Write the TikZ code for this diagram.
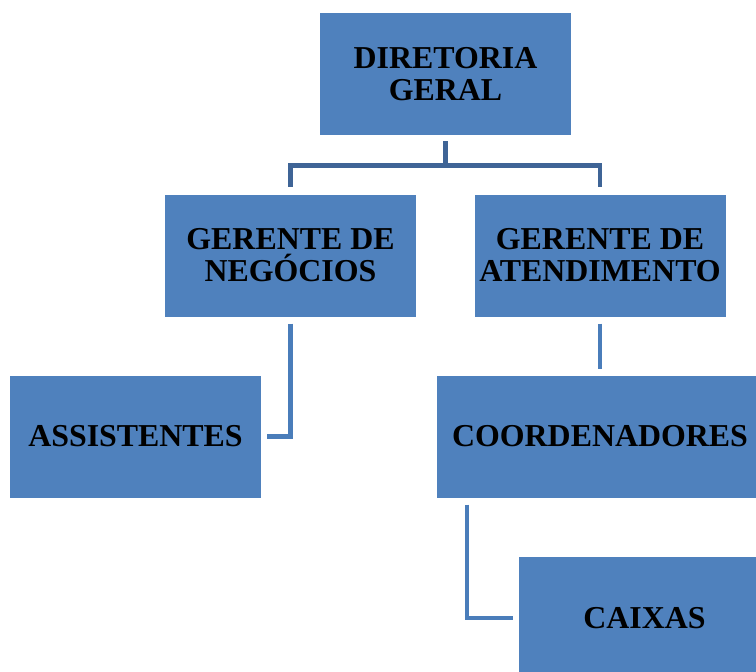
\documentclass[tikz,border=0pt]{standalone}
\usepackage{fontspec}
\setmainfont{Liberation Serif}
\usetikzlibrary{calc}
\definecolor{boxblue}{HTML}{4F81BD}
\definecolor{topline}{HTML}{3F6496}
\definecolor{subline}{HTML}{4A7DBA}
\tikzset{
  orgbox/.style={fill=boxblue, draw=none, minimum width=251bp, minimum height=122bp, inner sep=0pt, align=center, font=\fontsize{32}{32}\selectfont\bfseries},
  topconn/.style={draw=topline, line width=4.6bp, line join=miter},
  subconn/.style={draw=subline, line width=4.6bp, line join=miter}
}
\begin{document}
\begin{tikzpicture}[x=1bp, y=-1bp]
\useasboundingbox (0,0) rectangle (756,672);
\clip (0,0) rectangle (756,672);
\node[orgbox] (dg) at (445.5,74) {DIRETORIA\\GERAL};
\node[orgbox] (gn) at (290.5,255.5) {GERENTE DE\\NEGÓCIOS};
\node[orgbox] (ga) at (600,255.5) {GERENTE DE\\ATENDIMENTO};
\node[orgbox] (as) at (135.5,436.5) {ASSISTENTES};
\node[orgbox, minimum width=326bp] (co) at (600,436.5) {COORDENADORES};
\node[orgbox] (ca) at (644.5,618) {CAIXAS};
\draw[topconn] ($(dg.south)+(0,6)$) -- ++(0,24) coordinate (mid);
\draw[topconn] (mid) -| ($(gn.north)+(0,-7)$);
\draw[topconn] (mid) -| ($(ga.north)+(0,-7)$);
\draw[subconn] ($(gn.south)+(0,7)$) |- ($(as.east)+(6,0)$);
\draw[subconn] ($(ga.south)+(0,7)$) -- ($(co.north)+(0,-6)$);
\draw[subconn] ($(co.south west)+(30,7)$) |- ($(ca.west)+(-6,0)$);
\end{tikzpicture}
\end{document}
